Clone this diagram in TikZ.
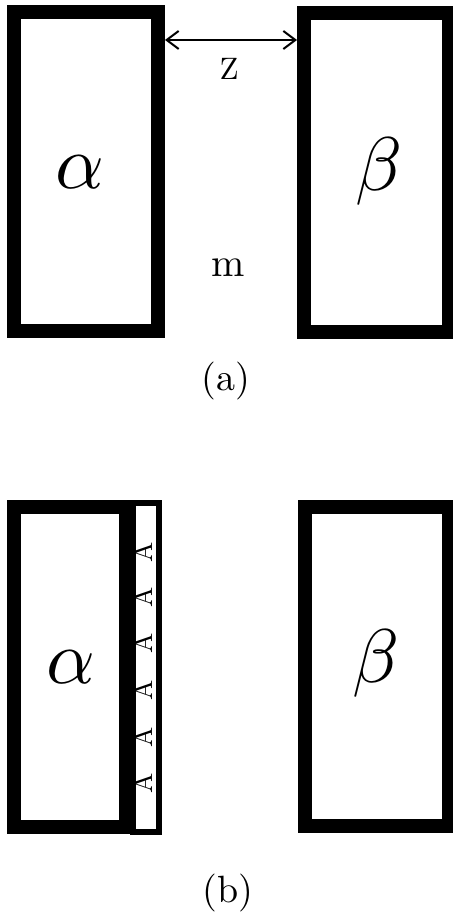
\documentclass[tikz,border=0pt]{standalone}
\usepackage{amsmath,amssymb}
\usepackage{tikz}
\usetikzlibrary{arrows.meta, positioning, calc}

\begin{document}
\begin{tikzpicture}[
    x=1pt, y=-1pt,
    slab/.style={
      rectangle, draw=black, line width=14pt,
      inner sep=0pt, fill=white
    },
    film/.style={
      rectangle, draw=black, line width=6pt,
      inner sep=0pt, fill=white
    },
    greek/.style={scale=7.6, inner sep=0pt},
    atom/.style={rotate=90, scale=2.7, inner sep=0pt},
    tag/.style={scale=3.8, inner sep=0pt},
    gap/.style={{Straight Barb[length=12pt,width=18pt]}-{Straight Barb[length=12pt,width=18pt]}, line width=2pt}
  ]
  \useasboundingbox (0,0) rectangle (452,917);

  % (a) two bare slabs
  \node[slab, minimum width=144pt, minimum height=319pt] (alphaA) at (86,171.5) {};
  \node[slab, minimum width=145pt, minimum height=319pt] (betaA) at (376.5,172.5) {};
  \node[greek] (alA) at (80,172) {$\alpha$};
  \node[greek] (beA) at (379,172) {$\beta$};
  \coordinate (zrow) at (0,40);
  \draw[gap] (alphaA.east |- zrow) -- (betaA.west |- zrow);
  \node[scale=3.1, inner sep=0pt] (sep) at (229,69) {Z};
  \node[scale=4.0, inner sep=0pt] (med) at (228,268) {m};
  \node[tag] (capA) at (226,381) {(a)};

  % (b) slab alpha with adsorbed film
  \node[film, minimum width=26pt, minimum height=329pt] (layer) at (146,667.5) {};
  \node[slab, minimum width=112pt, minimum height=320pt] (alphaB) at (70,667) {};
  \node[slab, minimum width=144pt, minimum height=319pt] (betaB) at (377,666.5) {};
  \node[greek] (alB) at (71,667) {$\alpha$};
  \node[greek] (beB) at (376,663) {$\beta$};
  \foreach \i/\yy in {1/552,2/597,3/643,4/690,5/737,6/783}
    \node[atom] (ad\i) at (143,\yy) {A};
  \node[tag] (capB) at (228,893) {(b)};
\end{tikzpicture}
\end{document}
